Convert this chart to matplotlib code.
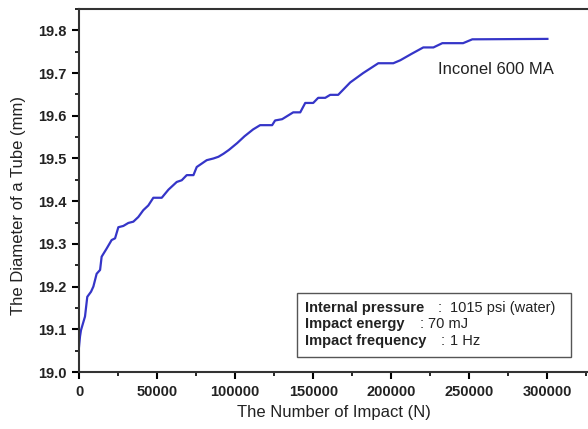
import matplotlib
matplotlib.use("Agg")
import matplotlib.pyplot as plt
from matplotlib.ticker import MultipleLocator, FixedLocator
from matplotlib.patches import Rectangle

plt.rcParams['font.family'] = ['Liberation Sans', 'DejaVu Sans']

impacts = [0, 640, 1280, 3850, 5300, 7700, 9200, 11300, 13500, 14500, 17700, 20900,
           23100, 25200, 28400, 31600, 34800, 38000, 41200, 44400, 47600, 53000,
           57300, 62600, 65800, 69000, 73300, 75400, 78600, 81800, 86100, 89300,
           92500, 96000, 101300, 106000, 111500, 116000, 123700, 125600, 130100,
           137200, 141700, 144900, 150000, 153200, 157700, 160900, 166000, 173700,
           182000, 191700, 201300, 205800, 213000, 220500, 227000, 232700, 246000,
           251900, 300000]
diameter = [19.059, 19.083, 19.098, 19.13, 19.176, 19.188, 19.20, 19.23, 19.239, 19.27,
            19.289, 19.309, 19.313, 19.339, 19.342, 19.349, 19.352, 19.363, 19.379,
            19.39, 19.408, 19.408, 19.427, 19.445, 19.449, 19.461, 19.461, 19.48,
            19.488, 19.496, 19.50, 19.504, 19.511, 19.52, 19.536, 19.552, 19.568,
            19.578, 19.578, 19.589, 19.592, 19.608, 19.608, 19.63, 19.63, 19.642,
            19.642, 19.649, 19.649, 19.678, 19.70, 19.723, 19.723, 19.73, 19.745,
            19.76, 19.76, 19.77, 19.77, 19.779, 19.78]

x_ticks = [0, 50000, 100000, 150000, 200000, 250000, 300000]
x_ticklabels = ["0", "50000", "100000", "150000", "200000", "250000", "300000"]
y_ticks = [19.0, 19.1, 19.2, 19.3, 19.4, 19.5, 19.6, 19.7, 19.8]
y_ticklabels = ["19.0", "19.1", "19.2", "19.3", "19.4", "19.5", "19.6", "19.7", "19.8"]

info_labels = ["Internal pressure", "Impact energy", "Impact frequency"]
info_values = ["1015 psi (water)", "70 mJ", "1 Hz"]
series_name = "Inconel 600 MA"

W, H = 588, 429
fig = plt.figure(figsize=(W / 100, H / 100), dpi=100)
ax = fig.add_axes([79 / W, 57 / H, (W - 79) / W, 363 / H])
ax.plot(impacts, diameter, color='#3535c8', lw=1.6)

ax.set_xlim(0, 326000)
ax.set_ylim(19.0, 19.85)
ax.xaxis.set_major_locator(FixedLocator(x_ticks))
ax.set_xticklabels(x_ticklabels)
ax.xaxis.set_minor_locator(MultipleLocator(25000))
ax.yaxis.set_major_locator(FixedLocator(y_ticks))
ax.set_yticklabels(y_ticklabels)
ax.yaxis.set_minor_locator(MultipleLocator(0.05))

for lab in ax.get_xticklabels() + ax.get_yticklabels():
    lab.set_fontweight('bold')
    lab.set_fontsize(10.5)
    lab.set_color('#222222')

ax.tick_params(which='major', direction='out', length=5, width=1.5, pad=4)
ax.tick_params(which='minor', direction='out', length=3, width=1.2)
ax.tick_params(top=False, right=False)
for s in ['left', 'bottom', 'top']:
    ax.spines[s].set_linewidth(1.5)
    ax.spines[s].set_color('#333333')
ax.spines['right'].set_visible(False)

ax.set_xlabel("The Number of Impact (N)", fontsize=12, color='#222222', labelpad=5)
ax.set_ylabel("The Diameter of a Tube (mm)", fontsize=12, color='#222222')
ax.yaxis.set_label_coords(-0.105, 0.46)

# Series annotation
fig.text(438 / W, 1 - 70 / H, series_name, fontsize=12, color='#222222',
         ha='left', va='center')

# Info box (pixel positions measured from the top-left)
box = Rectangle((297 / W, 1 - 357 / H), (571 - 297) / W, (357 - 293) / H,
                transform=fig.transFigure, fill=False, edgecolor='#555555', lw=1.0)
fig.add_artist(box)
rows_y = [308, 324, 341]
colon_x = [438, 420, 441]
value_x = [450, 428, 450]
for lab, val, yy, cx, vx in zip(info_labels, info_values, rows_y, colon_x, value_x):
    fig.text(305 / W, 1 - yy / H, lab, fontsize=10.5, fontweight='bold',
             color='#222222', ha='left', va='center')
    fig.text(cx / W, 1 - yy / H, ":", fontsize=10.5, color='#222222',
             ha='left', va='center')
    fig.text(vx / W, 1 - yy / H, val, fontsize=10.5, color='#222222',
             ha='left', va='center')

fig.savefig("out.png", dpi=100)
